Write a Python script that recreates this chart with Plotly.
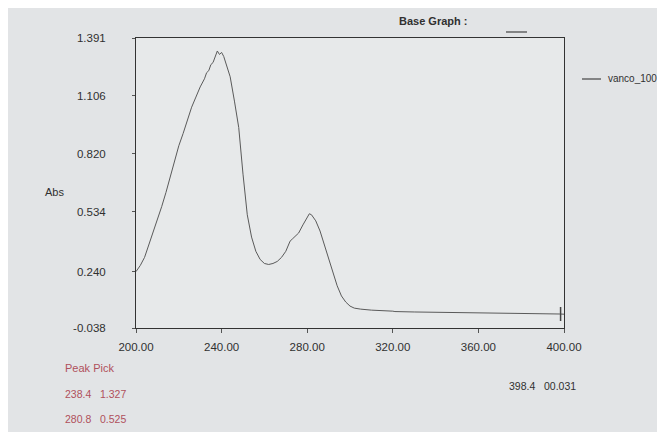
import plotly.graph_objects as go

wavelength = [200, 202, 204, 206, 208, 210, 212, 214, 216, 218, 220, 222, 224, 226, 228,
              230, 232, 233, 234, 235, 236, 237, 238, 239, 240, 241, 242, 244, 246, 248,
              250, 252, 254, 256, 258, 260, 262, 264, 266, 268, 270, 272, 273, 274, 276,
              278, 280, 281, 282, 284, 286, 288, 290, 292, 294, 296, 298, 300, 302, 305,
              310, 320, 321, 330, 340, 350, 358, 360, 370, 380, 390, 398, 400]
absorbance = [0.24, 0.27, 0.31, 0.37, 0.43, 0.49, 0.56, 0.63, 0.71, 0.78, 0.86, 0.92, 0.99, 1.05, 1.10,
              1.15, 1.19, 1.22, 1.23, 1.26, 1.27, 1.30, 1.327, 1.31, 1.32, 1.30, 1.27, 1.20, 1.08, 0.95,
              0.72, 0.52, 0.41, 0.34, 0.30, 0.28, 0.275, 0.28, 0.29, 0.31, 0.34, 0.39, 0.40, 0.41, 0.43,
              0.47, 0.51, 0.525, 0.52, 0.49, 0.44, 0.37, 0.30, 0.23, 0.17, 0.12, 0.09, 0.07, 0.06, 0.055,
              0.05, 0.045, 0.043, 0.041, 0.04, 0.039, 0.038, 0.036, 0.035, 0.034, 0.032, 0.031, 0.03]

y_ticks = [-0.038, 0.240, 0.534, 0.820, 1.106, 1.391]
y_tick_labels = ["-0.038", "0.240", "0.534", "0.820", "1.106", "1.391"]
x_ticks = [200, 240, 280, 320, 360, 400]
x_tick_labels = ["200.00", "240.00", "280.00", "320.00", "360.00", "400.00"]

series_name = "vanco_100"
peak_wl = [238.4, 280.8]
peak_abs = [1.327, 0.525]
cursor_wl = [398.4]
cursor_abs = [0.031]

FONT = "Liberation Sans, Arial, sans-serif"
TXT = "#303030"
RED = "#b0505c"

W, H = 665, 432
OFF = 8  # page body margin
# target plot rectangle in window pixels
PL, PR, PT, PB = 136, 564, 38, 328
ml, mt = PL - OFF, PT - OFF
mr, mb = W - (PR - OFF), H - (PB - OFF)
pw, ph = PR - PL, PB - PT


def px(x):
    return (x - PL) / pw


def py(y):
    return 1 - (y - PT) / ph


fig = go.Figure()
fig.add_trace(go.Scatter(x=wavelength, y=absorbance, mode="lines", name=series_name,
                         line=dict(color="#5a5a5a", width=1), showlegend=False))
fig.add_trace(go.Scatter(x=cursor_wl, y=cursor_abs, mode="markers", showlegend=False,
                         marker=dict(symbol="line-ns", size=10, line=dict(color="#444", width=1.5)),
                         hoverinfo="skip"))

fig.update_layout(
    width=W, height=H,
    margin=dict(l=ml, r=mr, t=mt, b=mb, pad=0),
    paper_bgcolor="#e2e4e6", plot_bgcolor="#e7e9ea",
    font=dict(family=FONT, size=11, color=TXT),
    showlegend=False,
    xaxis=dict(range=[200, 400], tickvals=x_ticks, ticktext=x_tick_labels, showgrid=False,
               zeroline=False, showline=True, mirror=True, linecolor="#333", linewidth=1,
               ticks="outside", ticklen=4, tickcolor="#555", ticklabelstandoff=4,
               tickfont=dict(size=11.5, color=TXT), automargin=False),
    yaxis=dict(range=[-0.038, 1.391], tickvals=y_ticks, ticktext=y_tick_labels, showgrid=False,
               zeroline=False, showline=True, mirror=True, linecolor="#333", linewidth=1,
               ticks="outside", ticklen=3, tickcolor="#555", ticklabelstandoff=24,
               tickfont=dict(size=11.5, color=TXT), automargin=False),
)

texts = [
    ("Abs", 43, 192, TXT, 11),
    ("<b>Base Graph :</b>", 397, 21, TXT, 11),
    (series_name, 606, 79, TXT, 10),
    ("Peak Pick", 63, 368, RED, 11),
]
for i, (w, a) in enumerate(zip(peak_wl, peak_abs)):
    texts.append((f"{w:.1f}&nbsp;&nbsp;&nbsp;{a:.3f}", 63, 394 + 25 * i, RED, 10.5))
texts.append((f"{cursor_wl[0]:.1f}&nbsp;&nbsp;&nbsp;0{cursor_abs[0]:.3f}", 507, 386, TXT, 10.5))

for t, x, y, c, s in texts:
    fig.add_annotation(text=t, x=px(x), y=py(y), xref="paper", yref="paper",
                       xanchor="left", yanchor="middle", showarrow=False,
                       font=dict(family=FONT, size=s, color=c))

# short dash next to "Base Graph :" and legend sample line
for x0, x1, y in [(506, 527, 32), (582, 601, 79)]:
    fig.add_shape(type="line", xref="paper", yref="paper",
                  x0=px(x0), x1=px(x1), y0=py(y), y1=py(y),
                  line=dict(color="#444", width=1.2))

fig.write_html("out.html")
